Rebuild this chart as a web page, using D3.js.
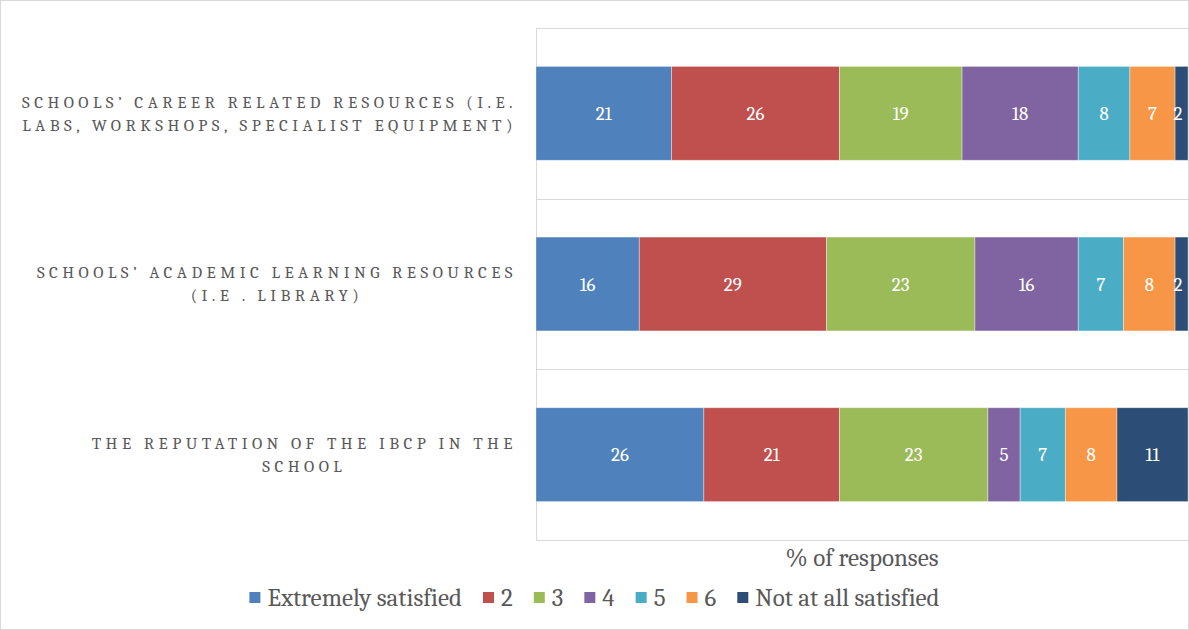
<!DOCTYPE html>
<html>
<head>
<meta charset="utf-8">
<script src="https://cdn.jsdelivr.net/npm/d3@7"></script>
<style>
  body { margin: 0; background: #fff; }
  svg { display: block; }
</style>
</head>
<body>
<div class="chart"></div>
<script>
(function() {
    var width = 1189;
    var height = 630;

    // data
    var categories = [
        ["SCHOOLS’ CAREER RELATED RESOURCES (I.E.", "LABS, WORKSHOPS, SPECIALIST EQUIPMENT)"],
        ["SCHOOLS’ ACADEMIC LEARNING RESOURCES", "(I.E . LIBRARY)"],
        ["THE REPUTATION OF THE IBCP IN THE", "SCHOOL"]
    ];
    var seriesNames = ["Extremely satisfied", "2", "3", "4", "5", "6", "Not at all satisfied"];
    var career   = [21, 26, 19, 18, 8, 7, 2];
    var academic = [16, 29, 23, 16, 7, 8, 2];
    var reputation = [26, 21, 23, 5, 7, 8, 11];
    var colors = ["#4f81bd", "#c0504d", "#9bbb59", "#8064a2", "#4bacc6", "#f79646", "#2c4d75"];

    var rows = [career, academic, reputation].map(function(vals, i) {
        var o = { id: i };
        seriesNames.forEach(function(s, j) { o[s] = vals[j]; });
        return o;
    });

    var serif = "Cambria, 'DejaVu Serif', serif";
    var plot = { left: 536, right: 1188, top: 28, bottom: 540 };

    var svg = d3.select(".chart")
                .append("svg")
                .attr("width", width)
                .attr("height", height);

    // outer chart frame
    svg.append("rect")
        .attr("x", 0.5).attr("y", 0.5)
        .attr("width", width - 1).attr("height", height - 1)
        .attr("fill", "#fff")
        .attr("stroke", "#d9d9d9");

    var x = d3.scaleLinear().domain([0, 1]).range([plot.left, plot.right]);
    var y = d3.scaleBand().domain(d3.range(categories.length))
              .range([plot.top, plot.bottom]);

    // category gridlines
    svg.selectAll(".grid")
        .data(d3.range(categories.length + 1))
        .enter().append("line")
        .attr("class", "grid")
        .attr("x1", plot.left).attr("x2", plot.right)
        .attr("y1", function(d) { return Math.round(plot.top + d * y.step()) + 0.5; })
        .attr("y2", function(d) { return Math.round(plot.top + d * y.step()) + 0.5; })
        .attr("stroke", "#d9d9d9");
    svg.append("line")
        .attr("x1", plot.left + 0.5).attr("x2", plot.left + 0.5)
        .attr("y1", plot.top).attr("y2", plot.bottom + 1)
        .attr("stroke", "#d9d9d9");

    var stack = d3.stack().keys(seriesNames).offset(d3.stackOffsetExpand);
    var layers = stack(rows);

    var barH = y.bandwidth() * 0.55;

    var groups = svg.selectAll(".layer")
        .data(layers)
        .enter().append("g")
        .attr("class", "layer")
        .attr("fill", function(d, i) { return colors[i]; });

    groups.selectAll("rect")
        .data(function(d) { return d; })
        .enter().append("rect")
        .attr("x", function(d) { return x(d[0]); })
        .attr("width", function(d) { return x(d[1]) - x(d[0]); })
        .attr("y", function(d, i) { return y(i) + (y.bandwidth() - barH) / 2; })
        .attr("height", barH)
        .attr("stroke", "rgba(255,255,255,0.45)")
        .attr("stroke-width", 0.8);

    groups.selectAll("text")
        .data(function(d) {
            var key = d.key;
            return d.map(function(p) { return { p: p, v: p.data[key] }; });
        })
        .enter().append("text")
        .attr("x", function(d) {
            var cx = (x(d.p[0]) + x(d.p[1])) / 2;
            return Math.min(cx, plot.right - 10);
        })
        .attr("y", function(d, i) { return y(i) + y.bandwidth() / 2; })
        .attr("dy", "0.35em")
        .attr("text-anchor", "middle")
        .attr("fill", "#fff")
        .style("font-family", serif)
        .style("font-size", "19px")
        .text(function(d) { return d.v; });

    // category labels, wrapped lines centred in a right-aligned block
    var labelRight = 517;
    categories.forEach(function(lines, i) {
        var g = svg.append("g");
        var cy = y(i) + y.bandwidth() / 2;
        var t = g.selectAll("text")
            .data(lines)
            .enter().append("text")
            .attr("y", function(d, k) { return cy + (k - (lines.length - 1) / 2) * 23; })
            .attr("dy", "0.35em")
            .attr("text-anchor", "middle")
            .attr("fill", "#595959")
            .style("font-family", serif)
            .style("font-size", "17px")
            .style("letter-spacing", "4.45px")
            .text(function(d) { return d; });
        var maxW = d3.max(t.nodes(), function(n) { return n.getComputedTextLength(); });
        t.attr("x", labelRight - maxW / 2);
    });

    // axis title
    svg.append("text")
        .attr("x", (plot.left + plot.right) / 2)
        .attr("y", 557)
        .attr("dy", "0.35em")
        .attr("text-anchor", "middle")
        .attr("fill", "#595959")
        .style("font-family", serif)
        .style("font-size", "25px")
        .text("% of responses");

    // legend
    var legend = svg.append("g").attr("transform", "translate(0,597)");
    var items = legend.selectAll(".item")
        .data(seriesNames)
        .enter().append("g")
        .attr("class", "item");
    items.append("rect")
        .attr("width", 11).attr("height", 11)
        .attr("y", -5)
        .attr("fill", function(d, i) { return colors[i]; });
    items.append("text")
        .attr("x", 18)
        .attr("dy", "0.35em")
        .attr("fill", "#595959")
        .style("font-family", serif)
        .style("font-size", "25px")
        .text(function(d) { return d; });
    var pos = [], cur = 0;
    items.each(function() {
        pos.push(cur);
        cur += 18 + d3.select(this).select("text").node().getComputedTextLength() + 21;
    });
    var total = cur - 21;
    var start = (width - total) / 2;
    items.attr("transform", function(d, i) { return "translate(" + (start + pos[i]) + ",0)"; });
})();
</script>
</body>
</html>
